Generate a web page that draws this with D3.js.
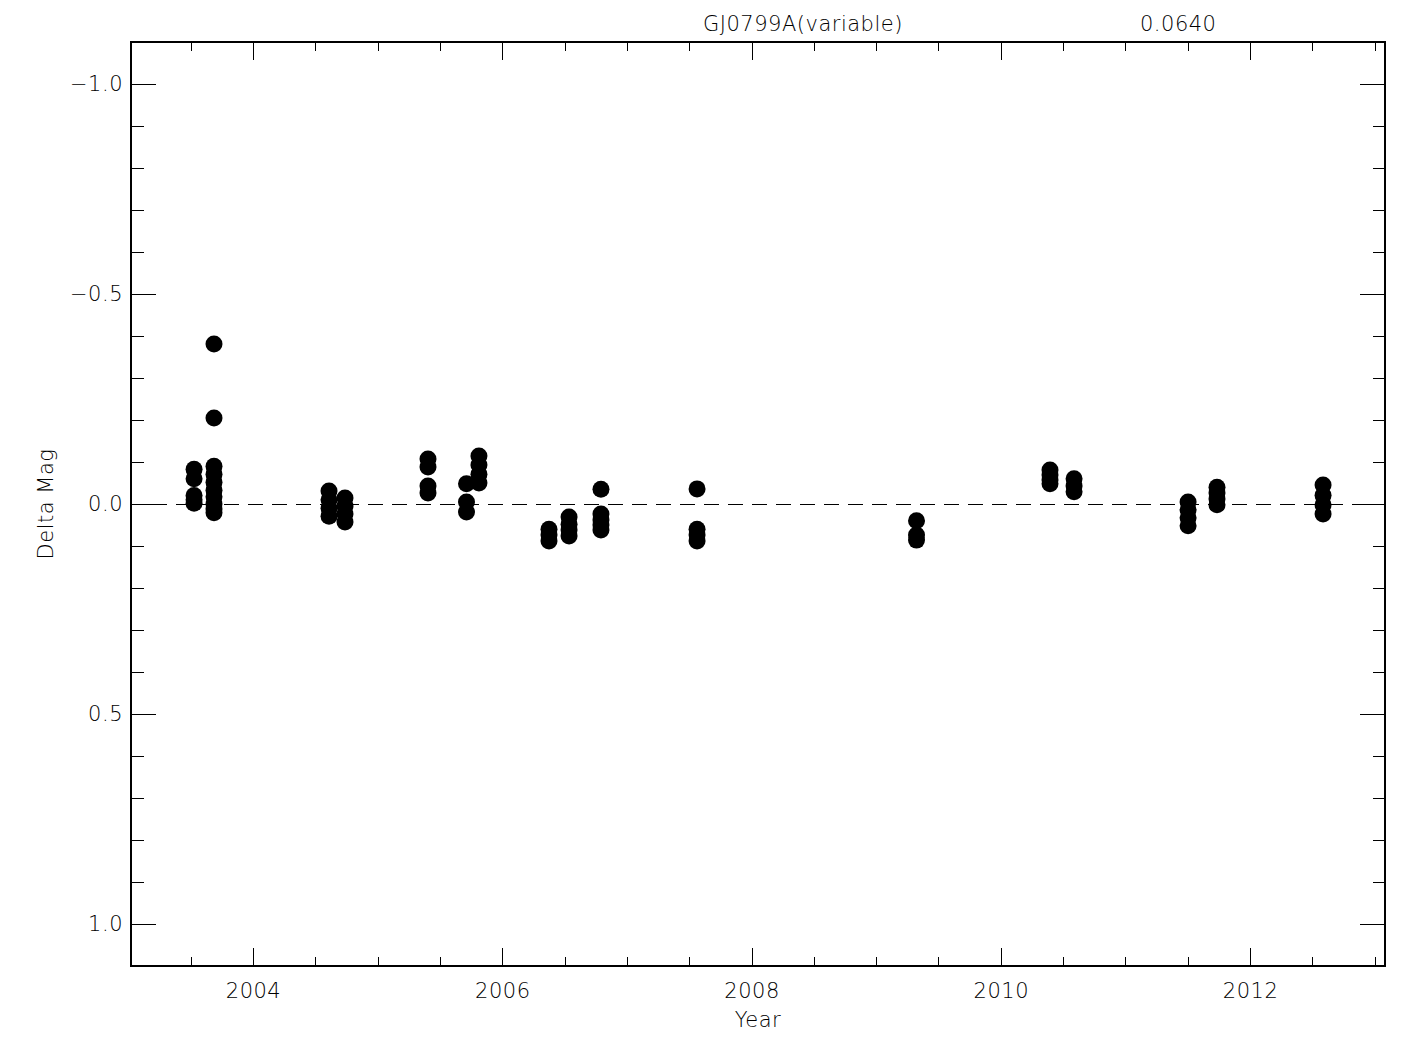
<!DOCTYPE html>
<html>
<head>
<meta charset="utf-8">
<script src="https://cdn.jsdelivr.net/npm/d3@7"></script>
<style>
  html, body { margin: 0; padding: 0; background: #fff; }
  svg text { font-family: "DejaVu Sans", "Liberation Sans", Arial, sans-serif; font-weight: 200; fill: #000; }
</style>
</head>
<body>
<svg id="chart" width="1425" height="1050"></svg>
<script>
// ---- data ----
const titleText = "GJ0799A(variable)";
const statText = "0.0640";
const xLabel = "Year";
const yLabel = "Delta Mag";

const epochYears = [2003.527, 2003.687, 2004.610, 2004.738, 2005.404, 2005.713, 2005.813,
  2006.375, 2006.536, 2006.792, 2007.563, 2009.324, 2010.395, 2010.588, 2011.503, 2011.735, 2012.586];

const epochMags = [
  [-0.083, -0.060, -0.020, -0.010, -0.002],
  [-0.381, -0.205, -0.090, -0.071, -0.052, -0.033, -0.017, 0.000, 0.012, 0.021],
  [-0.031, -0.010, 0.010, 0.029],
  [-0.014, 0.005, 0.024, 0.043],
  [-0.107, -0.088, -0.043, -0.026],
  [-0.048, -0.005, 0.019],
  [-0.114, -0.093, -0.071, -0.050],
  [0.060, 0.074, 0.088],
  [0.031, 0.048, 0.062, 0.076],
  [-0.035, 0.024, 0.038, 0.050, 0.062],
  [-0.036, 0.060, 0.074, 0.088],
  [0.040, 0.074, 0.086],
  [-0.081, -0.069, -0.057, -0.048],
  [-0.060, -0.043, -0.029],
  [-0.005, 0.014, 0.033, 0.052],
  [-0.040, -0.026, -0.012, 0.002],
  [-0.045, -0.021, 0.002, 0.024]
];

const xMajorTicks = [2004, 2006, 2008, 2010, 2012];
const xMinorTicks = [2003.5, 2004.5, 2005, 2005.5, 2006.5, 2007, 2007.5, 2008.5, 2009, 2009.5,
  2010.5, 2011, 2011.5, 2012.5, 2013];
const yMajorTicks = [-1.0, -0.5, 0.0, 0.5, 1.0];
const yMinorTicks = [-1.1, -0.9, -0.8, -0.7, -0.6, -0.4, -0.3, -0.2, -0.1, 0.1, 0.2, 0.3, 0.4, 0.6, 0.7, 0.8, 0.9, 1.1];

const xDomain = [2003.021, 2013.083];
const yDomain = [-1.1, 1.1];

// ---- layout ----
const L = 131, R = 1385, T = 42, B = 966;
const svg = d3.select("#chart");
svg.append("rect").attr("width", 1425).attr("height", 1050).attr("fill", "#fff");

const x = d3.scaleLinear().domain(xDomain).range([L, R]);
const y = d3.scaleLinear().domain(yDomain).range([T, B]);

const fontSize = 21;
const fontFam = "DejaVu Sans, Liberation Sans, Arial, sans-serif";
const fmtY = d3.format(".1f");

function styleAxis(g) {
  g.select(".domain").remove();
  g.selectAll("line").attr("stroke", "#000").attr("stroke-width", 1).attr("shape-rendering", "crispEdges");
  g.selectAll("text").attr("font-size", fontSize).attr("letter-spacing", "0.5px")
    .attr("font-family", fontFam).attr("font-weight", 200).attr("fill", "#000");
}

// bottom axis
const gB = svg.append("g").attr("transform", `translate(0,${B})`);
gB.call(d3.axisBottom(x).tickValues(xMajorTicks).tickSize(-18).tickPadding(17).tickFormat(d3.format("d")));
styleAxis(gB);
const gBm = svg.append("g").attr("transform", `translate(0,${B})`);
gBm.call(d3.axisBottom(x).tickValues(xMinorTicks).tickSize(-9).tickFormat(""));
styleAxis(gBm);

// top axis (no labels)
const gT = svg.append("g").attr("transform", `translate(0,${T})`);
gT.call(d3.axisTop(x).tickValues(xMajorTicks).tickSize(-18).tickFormat(""));
styleAxis(gT);
const gTm = svg.append("g").attr("transform", `translate(0,${T})`);
gTm.call(d3.axisTop(x).tickValues(xMinorTicks).tickSize(-9).tickFormat(""));
styleAxis(gTm);

// left axis
const gL = svg.append("g").attr("transform", `translate(${L},0)`);
gL.call(d3.axisLeft(y).tickValues(yMajorTicks).tickSize(-25).tickPadding(8).tickFormat(fmtY));
styleAxis(gL);
const gLm = svg.append("g").attr("transform", `translate(${L},0)`);
gLm.call(d3.axisLeft(y).tickValues(yMinorTicks).tickSize(-12.5).tickFormat(""));
styleAxis(gLm);

// right axis
const gR = svg.append("g").attr("transform", `translate(${R},0)`);
gR.call(d3.axisRight(y).tickValues(yMajorTicks).tickSize(-25).tickFormat(""));
styleAxis(gR);
const gRm = svg.append("g").attr("transform", `translate(${R},0)`);
gRm.call(d3.axisRight(y).tickValues(yMinorTicks).tickSize(-12.5).tickFormat(""));
styleAxis(gRm);

// frame
svg.append("rect").attr("x", L).attr("y", T).attr("width", R - L).attr("height", B - T)
  .attr("fill", "none").attr("stroke", "#000").attr("stroke-width", 1.5).attr("shape-rendering", "crispEdges");

// zero dashed line
svg.append("line")
  .attr("x1", x(xDomain[0])).attr("x2", x(xDomain[1]))
  .attr("y1", y(0)).attr("y2", y(0))
  .attr("stroke", "#000").attr("stroke-width", 1).attr("shape-rendering", "crispEdges")
  .attr("stroke-dasharray", "15,9").attr("stroke-dashoffset", 3);

// points
const pts = [];
epochYears.forEach((yr, i) => epochMags[i].forEach(m => pts.push({yr, m})));
svg.append("g").selectAll("circle").data(pts).join("circle")
  .attr("cx", d => x(d.yr)).attr("cy", d => y(d.m)).attr("r", 8.5).attr("fill", "#000");

// labels
function label(sel) {
  return sel.attr("font-size", fontSize).attr("letter-spacing", "0.5px")
    .attr("font-family", fontFam).attr("font-weight", 200);
}
label(svg.append("text").attr("x", (L + R) / 2).attr("y", 1027).attr("text-anchor", "middle")).text(xLabel);
label(svg.append("text").attr("transform", `translate(53,${(T + B) / 2}) rotate(-90)`)
  .attr("text-anchor", "middle")).text(yLabel);
label(svg.append("text").attr("x", 703).attr("y", 31)).text(titleText);
label(svg.append("text").attr("x", 1140).attr("y", 31)).text(statText);
</script>
</body>
</html>
